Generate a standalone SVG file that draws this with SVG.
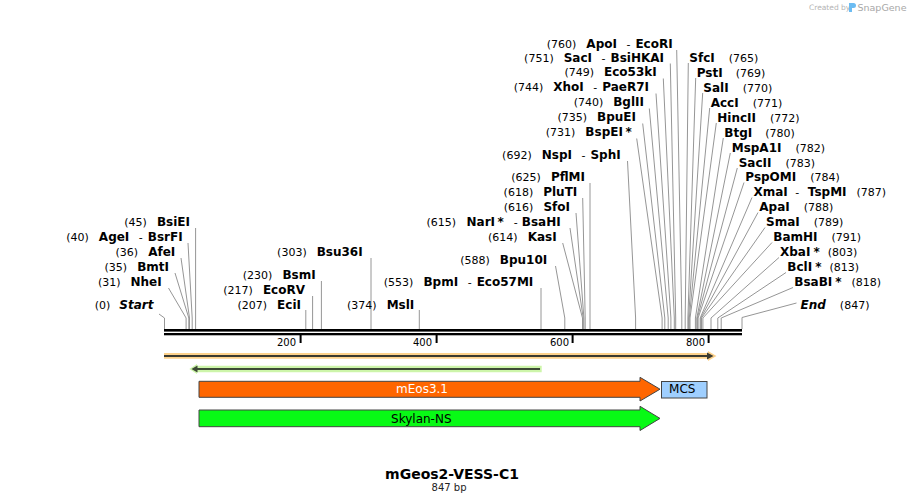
<svg xmlns="http://www.w3.org/2000/svg" width="907" height="503" viewBox="0 0 907 503">
<style>
text{font-family:"DejaVu Sans",Verdana,sans-serif;fill:#000}
.l{font-size:11px}
.b{font-size:12px;font-weight:bold}
.bi{font-size:12px;font-weight:bold;font-style:italic}
.e{text-anchor:end}
.ld{fill:none;stroke:#969696;stroke-width:1}
.tk{fill:#000}
.tl{font-size:10px;text-anchor:end}
.ft{stroke:#444;stroke-width:1}
.fl{font-size:12px;text-anchor:middle}
</style>
<rect width="907" height="503" fill="#fff"/>

<g id="watermark">
<text x="809" y="10" style="font-size:7.5px;fill:#b4b4b4">Created by</text>
<path d="M849,3h4.5a2.5,2.5 0 0 1 0,5h-1.5v4h-3z" fill="#6cbcf2"/>
<text x="857.5" y="10.5" style="font-size:9.5px;fill:#a8a8a8">SnapGene</text>
</g>

<g id="connectors">
<polyline class="ld" points="159,314 164.5,318 164.5,329"/>
<polyline class="ld" points="168.5,288 186.1,318 186.1,329"/>
<polyline class="ld" points="175,273 188.8,318 188.8,329"/>
<polyline class="ld" points="181,258 189.5,318 189.5,329"/>
<polyline class="ld" points="188,243 192.2,318 192.2,329"/>
<polyline class="ld" points="195.6,228 195.6,329"/>
<polyline class="ld" points="305.8,310 305.8,329"/>
<polyline class="ld" points="312.6,296 312.6,329"/>
<polyline class="ld" points="321.4,281 321.4,329"/>
<polyline class="ld" points="371,258 371,329"/>
<polyline class="ld" points="419.3,310 419.3,329"/>
<polyline class="ld" points="541,288 541,329"/>
<polyline class="ld" points="555.5,266 564.8,318 564.8,329"/>
<polyline class="ld" points="562.7,243 582.5,318 582.5,329"/>
<polyline class="ld" points="570,228 583.2,318 583.2,329"/>
<polyline class="ld" points="576,213 583.9,318 583.9,329"/>
<polyline class="ld" points="582.7,198 585.2,318 585.2,329"/>
<polyline class="ld" points="590,183 590,329"/>
<polyline class="ld" points="627.5,161 635.6,318 635.6,329"/>
<polyline class="ld" points="636.7,138.5 662.1,318 662.1,329"/>
<polyline class="ld" points="642.7,123.5 664.8,318 664.8,329"/>
<polyline class="ld" points="649.3,108.5 668.2,318 668.2,329"/>
<polyline class="ld" points="656,93.5 670.9,318 670.9,329"/>
<polyline class="ld" points="663.3,78.5 674.3,318 674.3,329"/>
<polyline class="ld" points="670.3,63.5 675.7,318 675.7,329"/>
<polyline class="ld" points="676.7,50 681.8,318 681.8,329"/>
<polyline class="ld" points="688.3,63 685.2,318 685.2,329"/>
<polyline class="ld" points="695.7,78 687.9,318 687.9,329"/>
<polyline class="ld" points="702.7,93 688.6,318 688.6,329"/>
<polyline class="ld" points="709.7,108 689.3,318 689.3,329"/>
<polyline class="ld" points="716.3,123 690,318 690,329"/>
<polyline class="ld" points="723.3,138 695.4,318 695.4,329"/>
<polyline class="ld" points="730.3,153 696.8,318 696.8,329"/>
<polyline class="ld" points="737.3,168 697.4,318 697.4,329"/>
<polyline class="ld" points="744,182.5 698.1,318 698.1,329"/>
<polyline class="ld" points="752,197.5 700.2,318 700.2,329"/>
<polyline class="ld" points="758,212.5 700.8,318 700.8,329"/>
<polyline class="ld" points="765,227.5 701.5,318 701.5,329"/>
<polyline class="ld" points="772,242.5 702.9,318 702.9,329"/>
<polyline class="ld" points="779,257.5 711,318 711,329"/>
<polyline class="ld" points="786,272.5 717.8,318 717.8,329"/>
<polyline class="ld" points="793,287.5 721.2,318 721.2,329"/>
<polyline class="ld" points="796.5,303 742,317.5 742,329"/>
</g>

<g id="ruler">
<rect x="164" y="329" width="578" height="2.6" fill="#000"/>
<rect x="164" y="333" width="578" height="2.3" fill="#000"/>
<rect class="tk" x="299.6" y="335" width="2" height="8"/>
<rect class="tk" x="435.6" y="335" width="2" height="8"/>
<rect class="tk" x="571.6" y="335" width="2" height="8"/>
<rect class="tk" x="707.6" y="335" width="2" height="8"/>
<text class="tl" x="296" y="346">200</text>
<text class="tl" x="432" y="346">400</text>
<text class="tl" x="569" y="346">600</text>
<text class="tl" x="705" y="346">800</text>
</g>

<g id="site-Start"><text class="l e" x="153.5" y="308.5">(0)<tspan class="bi" dx="9">Start</tspan></text></g>
<g id="site-NheI"><text class="l e" x="161.7" y="286">(31)<tspan class="b" dx="10">NheI</tspan></text></g>
<g id="site-BmtI"><text class="l e" x="169" y="271">(35)<tspan class="b" dx="10">BmtI</tspan></text></g>
<g id="site-AfeI"><text class="l e" x="175.3" y="256">(36)<tspan class="b" dx="10">AfeI</tspan></text></g>
<g id="site-AgeI"><text class="l e" x="182.7" y="241">(40)<tspan class="b" dx="10">AgeI</tspan><tspan dx="9.5">-</tspan><tspan class="b" dx="5">BsrFI</tspan></text></g>
<g id="site-BsiEI"><text class="l e" x="190" y="226">(45)<tspan class="b" dx="10">BsiEI</tspan></text></g>
<g id="site-EciI"><text class="l e" x="301" y="308.5">(207)<tspan class="b" dx="10">EciI</tspan></text></g>
<g id="site-EcoRV"><text class="l e" x="305" y="293.5">(217)<tspan class="b" dx="10">EcoRV</tspan></text></g>
<g id="site-BsmI"><text class="l e" x="315.7" y="278.5">(230)<tspan class="b" dx="10">BsmI</tspan></text></g>
<g id="site-Bsu36I"><text class="l e" x="362.7" y="256">(303)<tspan class="b" dx="10">Bsu36I</tspan></text></g>
<g id="site-MslI"><text class="l e" x="414.3" y="308.5">(374)<tspan class="b" dx="10">MslI</tspan></text></g>
<g id="site-BpmI"><text class="l e" x="533.3" y="285.5">(553)<tspan class="b" dx="10">BpmI</tspan><tspan dx="9.5">-</tspan><tspan class="b" dx="5">Eco57MI</tspan></text></g>
<g id="site-Bpu10I"><text class="l e" x="547.3" y="263.5">(588)<tspan class="b" dx="10">Bpu10I</tspan></text></g>
<g id="site-KasI"><text class="l e" x="556.7" y="241">(614)<tspan class="b" dx="10">KasI</tspan></text></g>
<g id="site-NarI"><text class="l e" x="560.7" y="226">(615)<tspan class="b" dx="10.5">NarI</tspan><tspan class="b" dx="2.5">*</tspan><tspan dx="10">-</tspan><tspan class="b" dx="4">BsaHI</tspan></text></g>
<g id="site-SfoI"><text class="l e" x="570" y="211">(616)<tspan class="b" dx="10">SfoI</tspan></text></g>
<g id="site-PluTI"><text class="l e" x="577.3" y="196">(618)<tspan class="b" dx="10">PluTI</tspan></text></g>
<g id="site-PflMI"><text class="l e" x="585" y="181">(625)<tspan class="b" dx="10">PflMI</tspan></text></g>
<g id="site-NspI"><text class="l e" x="620.7" y="158.5">(692)<tspan class="b" dx="10">NspI</tspan><tspan dx="9.5">-</tspan><tspan class="b" dx="5">SphI</tspan></text></g>
<g id="site-BspEI"><text class="l e" x="631.7" y="136">(731)<tspan class="b" dx="10">BspEI</tspan><tspan class="b" dx="2.5">*</tspan></text></g>
<g id="site-BpuEI"><text class="l e" x="636" y="121">(735)<tspan class="b" dx="10">BpuEI</tspan></text></g>
<g id="site-BglII"><text class="l e" x="644" y="106">(740)<tspan class="b" dx="10">BglII</tspan></text></g>
<g id="site-XhoI"><text class="l e" x="649" y="91">(744)<tspan class="b" dx="10">XhoI</tspan><tspan dx="9.5">-</tspan><tspan class="b" dx="5">PaeR7I</tspan></text></g>
<g id="site-Eco53kI"><text class="l e" x="656.7" y="76">(749)<tspan class="b" dx="10">Eco53kI</tspan></text></g>
<g id="site-SacI"><text class="l e" x="664" y="61.5">(751)<tspan class="b" dx="10">SacI</tspan><tspan dx="9.5">-</tspan><tspan class="b" dx="5">BsiHKAI</tspan></text></g>
<g id="site-ApoI"><text class="l e" x="672.7" y="47.5">(760)<tspan class="b" dx="10">ApoI</tspan><tspan dx="9.5">-</tspan><tspan class="b" dx="5">EcoRI</tspan></text></g>

<g id="site-SfcI"><text class="l" x="689.3" y="61.7"><tspan class="b">SfcI</tspan><tspan dx="14">(765)</tspan></text></g>
<g id="site-PstI"><text class="l" x="696.7" y="76.7"><tspan class="b">PstI</tspan><tspan dx="13">(769)</tspan></text></g>
<g id="site-SalI"><text class="l" x="703.3" y="91.7"><tspan class="b">SalI</tspan><tspan dx="14">(770)</tspan></text></g>
<g id="site-AccI"><text class="l" x="710.7" y="106.7"><tspan class="b">AccI</tspan><tspan dx="14">(771)</tspan></text></g>
<g id="site-HincII"><text class="l" x="717.3" y="121.7"><tspan class="b">HincII</tspan><tspan dx="14">(772)</tspan></text></g>
<g id="site-BtgI"><text class="l" x="724.3" y="136.7"><tspan class="b">BtgI</tspan><tspan dx="13">(780)</tspan></text></g>
<g id="site-MspA1I"><text class="l" x="731.7" y="151.7"><tspan class="b">MspA1I</tspan><tspan dx="14">(782)</tspan></text></g>
<g id="site-SacII"><text class="l" x="738.7" y="166.7"><tspan class="b">SacII</tspan><tspan dx="14">(783)</tspan></text></g>
<g id="site-PspOMI"><text class="l" x="745.3" y="181"><tspan class="b">PspOMI</tspan><tspan dx="14">(784)</tspan></text></g>
<g id="site-XmaI"><text class="l" x="753.5" y="196"><tspan class="b">XmaI</tspan><tspan dx="7.5">-</tspan><tspan class="b" dx="8.5">TspMI</tspan><tspan dx="10">(787)</tspan></text></g>
<g id="site-ApaI"><text class="l" x="759.3" y="211"><tspan class="b">ApaI</tspan><tspan dx="14">(788)</tspan></text></g>
<g id="site-SmaI"><text class="l" x="766" y="226"><tspan class="b">SmaI</tspan><tspan dx="14">(789)</tspan></text></g>
<g id="site-BamHI"><text class="l" x="773.3" y="241"><tspan class="b">BamHI</tspan><tspan dx="14">(791)</tspan></text></g>
<g id="site-XbaI"><text class="l" x="780" y="256"><tspan class="b">XbaI</tspan><tspan class="b" dx="3">*</tspan><tspan dx="8">(803)</tspan></text></g>
<g id="site-BclI"><text class="l" x="787.3" y="271"><tspan class="b">BclI</tspan><tspan class="b" dx="3">*</tspan><tspan dx="8">(813)</tspan></text></g>
<g id="site-BsaBI"><text class="l" x="794.3" y="286"><tspan class="b">BsaBI</tspan><tspan class="b" dx="3">*</tspan><tspan dx="10">(818)</tspan></text></g>
<g id="site-End"><text class="l" x="800.5" y="308.5"><tspan class="bi">End</tspan><tspan dx="14">(847)</tspan></text></g>

<g id="feature-orange">
<path d="M164,353H708V351L716.5,356L708,361V358.7H164Z" fill="#fdd28c"/>
<rect x="164" y="355" width="544" height="2" fill="#3a3a30"/>
<path d="M707,352.5L713.5,356L707,359.5Z" fill="#3a3a30"/>
</g>
<g id="feature-green">
<path d="M541.7,365.7H197V364L189.3,369L197,374V372.3H541.7Z" fill="#cdf5aa"/>
<rect x="196" y="368" width="344" height="2" fill="#3d4a35"/>
<path d="M197.5,365.5L191.5,369L197.5,372.5Z" fill="#3d4a35"/>
</g>
<g id="feature-mEos3.1">
<path class="ft" d="M199,381.3H640V377.3L660,389.2L640,401V397.3H199Z" fill="#ff6600"/>
<text class="fl" x="422" y="393" style="fill:#fff">mEos3.1</text>
</g>
<g id="feature-MCS">
<rect class="ft" x="661.5" y="381.5" width="45.5" height="16.5" fill="#9fcfff"/>
<text class="fl" x="682.3" y="393">MCS</text>
</g>
<g id="feature-Skylan-NS">
<path class="ft" d="M199,410H640V406.3L660,418.4L640,430.5V426.7H199Z" fill="#08fa15"/>
<text class="fl" x="421.3" y="422.5">Skylan-NS</text>
</g>

<g id="title">
<text x="452" y="479" style="font-size:14px;font-weight:bold;text-anchor:middle">mGeos2-VESS-C1</text>
<text x="449" y="490.5" style="font-size:10px;text-anchor:middle;fill:#222">847 bp</text>
</g>
</svg>
